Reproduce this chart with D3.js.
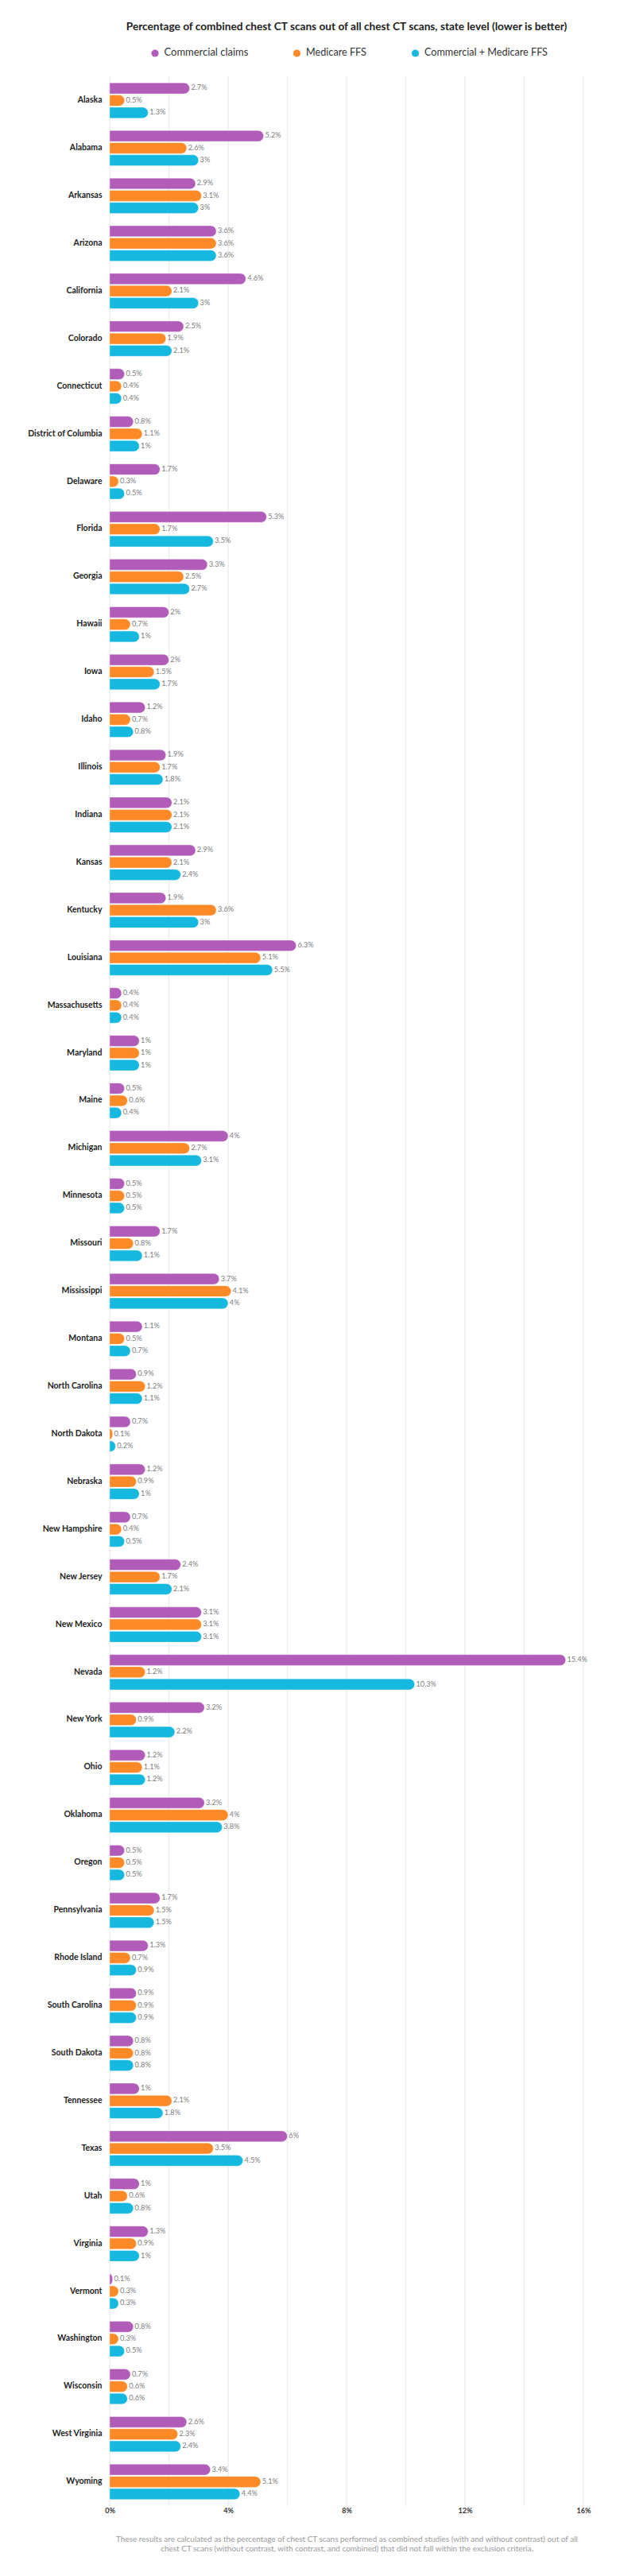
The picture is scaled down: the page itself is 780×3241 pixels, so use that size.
<!DOCTYPE html>
<html>
<head>
<meta charset="utf-8">
<script src="https://cdn.jsdelivr.net/npm/d3@7"></script>
<style>
  body { margin: 0; background: #fff; }
  text { font-family: Lato, "Open Sans", sans-serif; }
</style>
</head>
<body>
<script>
var states = ["Alaska", "Alabama", "Arkansas", "Arizona", "California", "Colorado",
  "Connecticut", "District of Columbia", "Delaware", "Florida", "Georgia", "Hawaii",
  "Iowa", "Idaho", "Illinois", "Indiana", "Kansas", "Kentucky", "Louisiana",
  "Massachusetts", "Maryland", "Maine", "Michigan", "Minnesota", "Missouri",
  "Mississippi", "Montana", "North Carolina", "North Dakota", "Nebraska",
  "New Hampshire", "New Jersey", "New Mexico", "Nevada", "New York", "Ohio",
  "Oklahoma", "Oregon", "Pennsylvania", "Rhode Island", "South Carolina",
  "South Dakota", "Tennessee", "Texas", "Utah", "Virginia", "Vermont",
  "Washington", "Wisconsin", "West Virginia", "Wyoming"];

var commercial = [2.7, 5.2, 2.9, 3.6, 4.6, 2.5, 0.5, 0.8, 1.7, 5.3, 3.3, 2, 2, 1.2, 1.9,
  2.1, 2.9, 1.9, 6.3, 0.4, 1, 0.5, 4, 0.5, 1.7, 3.7, 1.1, 0.9, 0.7, 1.2, 0.7, 2.4, 3.1,
  15.4, 3.2, 1.2, 3.2, 0.5, 1.7, 1.3, 0.9, 0.8, 1, 6, 1, 1.3, 0.1, 0.8, 0.7, 2.6, 3.4];

var medicare = [0.5, 2.6, 3.1, 3.6, 2.1, 1.9, 0.4, 1.1, 0.3, 1.7, 2.5, 0.7, 1.5, 0.7, 1.7,
  2.1, 2.1, 3.6, 5.1, 0.4, 1, 0.6, 2.7, 0.5, 0.8, 4.1, 0.5, 1.2, 0.1, 0.9, 0.4, 1.7, 3.1,
  1.2, 0.9, 1.1, 4, 0.5, 1.5, 0.7, 0.9, 0.8, 2.1, 3.5, 0.6, 0.9, 0.3, 0.3, 0.6, 2.3, 5.1];

var combined = [1.3, 3, 3, 3.6, 3, 2.1, 0.4, 1, 0.5, 3.5, 2.7, 1, 1.7, 0.8, 1.8,
  2.1, 2.4, 3, 5.5, 0.4, 1, 0.4, 3.1, 0.5, 1.1, 4, 0.7, 1.1, 0.2, 1, 0.5, 2.1, 3.1,
  10.3, 2.2, 1.2, 3.8, 0.5, 1.5, 0.9, 0.9, 0.8, 1.8, 4.5, 0.8, 1, 0.3, 0.5, 0.6, 2.4, 4.4];

var seriesNames = ["Commercial claims", "Medicare FFS", "Commercial + Medicare FFS"];
var seriesColors = ["#b25cb9", "#fd8a27", "#15b8df"];
var axisTicks = [0, 4, 8, 12, 16];
var gridTicks = [0, 2, 4, 6, 8, 10, 12, 14, 16];

var width = 780,
    height = 3241;

var svg = d3.select("body").append("svg")
    .attr("width", width)
    .attr("height", height);

var x = d3.scaleLinear()
    .domain([0, 16])
    .range([138, 734]);

var y = d3.scaleBand()
    .domain(states)
    .range([96.5, 3152.5])
    .paddingInner(0.26)
    .paddingOuter(0.13);

var ySub = d3.scaleBand()
    .domain(seriesNames)
    .range([0, y.bandwidth()])
    .paddingInner(0.105);

var values = [commercial, medicare, combined];

// shrink or grow a text's font size so it spans roughly the wanted width
function fitWidth(sel, target) {
  sel.each(function() {
    var node = this,
        size = parseFloat(d3.select(node).style("font-size")),
        w = node.getComputedTextLength();
    if (w > 0) d3.select(node).style("font-size", (size * target / w) + "px");
  });
}

// title
svg.append("text")
    .attr("x", (x.range()[0] + x.range()[1]) / 2)
    .attr("y", 34)
    .attr("text-anchor", "middle")
    .attr("dominant-baseline", "middle")
    .style("font-size", "12.4px")
    .style("font-weight", "bold")
    .style("fill", "#222")
    .text("Percentage of combined chest CT scans out of all chest CT scans, state level (lower is better)")
    .call(fitWidth, 555);

// legend
var legendX = [195, 373.5, 522.5];
var legendW = [106, 76, 155];
var legend = svg.selectAll(".legend")
    .data(seriesNames)
  .enter().append("g")
    .attr("class", "legend")
    .attr("transform", function(d, i) { return "translate(" + legendX[i] + ",67)"; });

legend.append("circle")
    .attr("r", 4.6)
    .style("fill", function(d, i) { return seriesColors[i]; });

legend.append("text")
    .attr("x", 11.5)
    .attr("dominant-baseline", "middle")
    .style("font-size", "12px")
    .style("fill", "#333")
    .text(function(d) { return d; })
    .each(function(d, i) { d3.select(this).call(fitWidth, legendW[i]); });

// grid
svg.append("g")
    .attr("class", "grid")
  .selectAll("line")
    .data(gridTicks)
  .enter().append("line")
    .attr("x1", function(d) { return x(d); })
    .attr("x2", function(d) { return x(d); })
    .attr("y1", 96)
    .attr("y2", 3153)
    .style("stroke", "#ececec")
    .style("stroke-width", 1.4);

// bottom axis
var axis = svg.append("g")
    .attr("transform", "translate(0,3153)")
    .call(d3.axisBottom(x)
      .tickValues(axisTicks)
      .tickSize(0)
      .tickPadding(3)
      .tickFormat(function(d) { return d + "%"; }));

axis.select(".domain").remove();
axis.selectAll("text")
    .style("font-family", "Lato, sans-serif")
    .style("font-size", "9px")
    .style("font-weight", "bold")
    .style("fill", "#333");

function barPath(v, top, h) {
  var x0 = x(0), x1 = x(v),
      r = h / 2,
      rx = Math.min(r, x1 - x0);
  return "M" + x0 + "," + top +
    "H" + (x1 - rx) +
    "A" + rx + "," + r + " 0 0 1 " + x1 + "," + (top + r) +
    "A" + rx + "," + r + " 0 0 1 " + (x1 - rx) + "," + (top + h) +
    "H" + x0 + "Z";
}

// one group per state
var row = svg.selectAll(".state")
    .data(states)
  .enter().append("g")
    .attr("class", "state")
    .attr("transform", function(d) { return "translate(0," + y(d) + ")"; });

row.append("text")
    .attr("x", 128.5)
    .attr("y", y.bandwidth() / 2)
    .attr("text-anchor", "end")
    .attr("dominant-baseline", "middle")
    .style("font-size", "10.5px")
    .style("font-weight", "bold")
    .style("fill", "#222")
    .text(function(d) { return d; });

row.each(function(d, i) {
  var g = d3.select(this);
  var bars = seriesNames.map(function(s, j) {
    return { series: s, color: seriesColors[j], value: values[j][i] };
  });

  g.selectAll("path")
      .data(bars)
    .enter().append("path")
      .attr("d", function(b) { return barPath(b.value, ySub(b.series), ySub.bandwidth()); })
      .style("fill", function(b) { return b.color; })
      .style("stroke", "#fff")
      .style("stroke-opacity", 0.45)
      .style("stroke-width", 0.8);

  g.selectAll(".val")
      .data(bars)
    .enter().append("text")
      .attr("class", "val")
      .attr("x", function(b) { return x(b.value) + 1.8; })
      .attr("y", function(b) { return ySub(b.series) + ySub.bandwidth() / 2; })
      .attr("dominant-baseline", "middle")
      .style("font-size", "9.2px")
      .style("fill", "#7d7d7d")
      .text(function(b) { return b.value + "%"; });
});

// footnote
var noteLines = [
  "These results are calculated as the percentage of chest CT scans performed as combined studies (with and without contrast) out of all",
  "chest CT scans (without contrast, with contrast, and combined) that did not fall within the exclusion criteria."
];

var note = svg.append("text")
    .attr("x", 436.5)
    .attr("text-anchor", "middle")
    .style("font-size", "9.6px")
    .style("fill", "#9a9a9a");

note.selectAll("tspan")
    .data(noteLines)
  .enter().append("tspan")
    .attr("x", 436.5)
    .attr("y", function(d, i) { return 3198 + i * 12; })
    .text(function(d) { return d; });

// match the first footnote line to its width in the reference
var first = note.select("tspan").node();
var w0 = first.getComputedTextLength();
if (w0 > 0) note.style("font-size", (9.6 * 581 / w0) + "px");
</script>
</body>
</html>
